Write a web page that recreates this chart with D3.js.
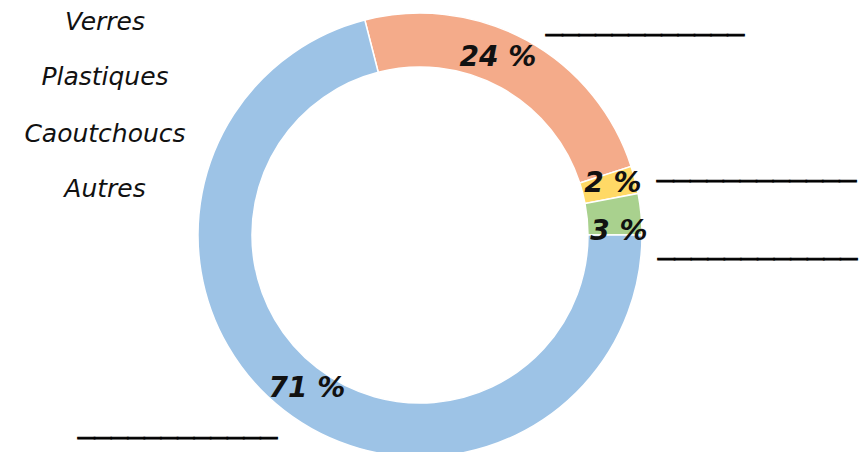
<!DOCTYPE html>
<html>
<head>
<meta charset="utf-8">
<script src="https://cdn.jsdelivr.net/npm/d3@7"></script>
<style>
  html, body { margin: 0; padding: 0; background: #fff; }
  svg { display: block; }
</style>
</head>
<body>
<svg id="chart" width="861" height="452"></svg>
<script>
// ---- data ----
const sliceNames = ["Plastiques", "Caoutchoucs", "Autres", "Verres"];
const sliceValues = [24, 2, 3, 71];
const sliceColors = ["#f4ab8a", "#ffd966", "#a9d18e", "#9dc3e6"];
const pctLabels = ["24 %", "2 %", "3 %", "71 %"];
const categoryLabels = ["Verres", "Plastiques", "Caoutchoucs", "Autres"];
const blankText = "____________";

const svg = d3.select("#chart");
const cx = 420, cy = 235, rOuter = 222, rInner = 168;
const startAngle = -0.04 * 2 * Math.PI;

const pie = d3.pie().sort(null).value(d => d)
  .startAngle(startAngle).endAngle(startAngle + 2 * Math.PI);
const arcs = pie(sliceValues);
const arc = d3.arc().innerRadius(rInner).outerRadius(rOuter);

const g = svg.append("g").attr("transform", `translate(${cx},${cy})`);
g.selectAll("path.slice").data(arcs).join("path")
  .attr("class", "slice")
  .attr("d", arc)
  .attr("fill", (d, i) => sliceColors[i])
  .attr("stroke", "#fff")
  .attr("stroke-width", 1.5);

// percentage labels
const pctPos = [[498, 66], [613, 192], [619, 240], [307, 397]];
svg.selectAll("text.pct").data(pctLabels).join("text")
  .attr("class", "pct")
  .attr("x", (d, i) => pctPos[i][0])
  .attr("y", (d, i) => pctPos[i][1])
  .attr("text-anchor", "middle")
  .attr("font-family", "DejaVu Sans")
  .attr("font-weight", "bold")
  .attr("font-style", "italic")
  .attr("font-size", 28)
  .attr("fill", "#111")
  .text(d => d);

// category labels on the left
const catY = [30, 85, 142, 197];
svg.selectAll("text.cat").data(categoryLabels).join("text")
  .attr("class", "cat")
  .attr("x", 105)
  .attr("y", (d, i) => catY[i])
  .attr("text-anchor", "middle")
  .attr("font-family", "DejaVu Sans")
  .attr("font-style", "italic")
  .attr("font-size", 25)
  .attr("fill", "#111")
  .text(d => d);

// blank answer lines (underscores)
const blanks = [[546, 30, 198], [657, 176, 199], [658, 254, 199], [78, 433, 199]];
svg.selectAll("text.blank").data(blanks).join("text")
  .attr("class", "blank")
  .attr("x", d => d[0])
  .attr("y", d => d[1])
  .attr("textLength", d => d[2])
  .attr("lengthAdjust", "spacingAndGlyphs")
  .attr("font-family", "DejaVu Sans")
  .attr("font-size", 24)
  .attr("fill", "#000")
  .attr("stroke", "#000")
  .attr("stroke-width", 0.8)
  .text(blankText);
</script>
</body>
</html>
